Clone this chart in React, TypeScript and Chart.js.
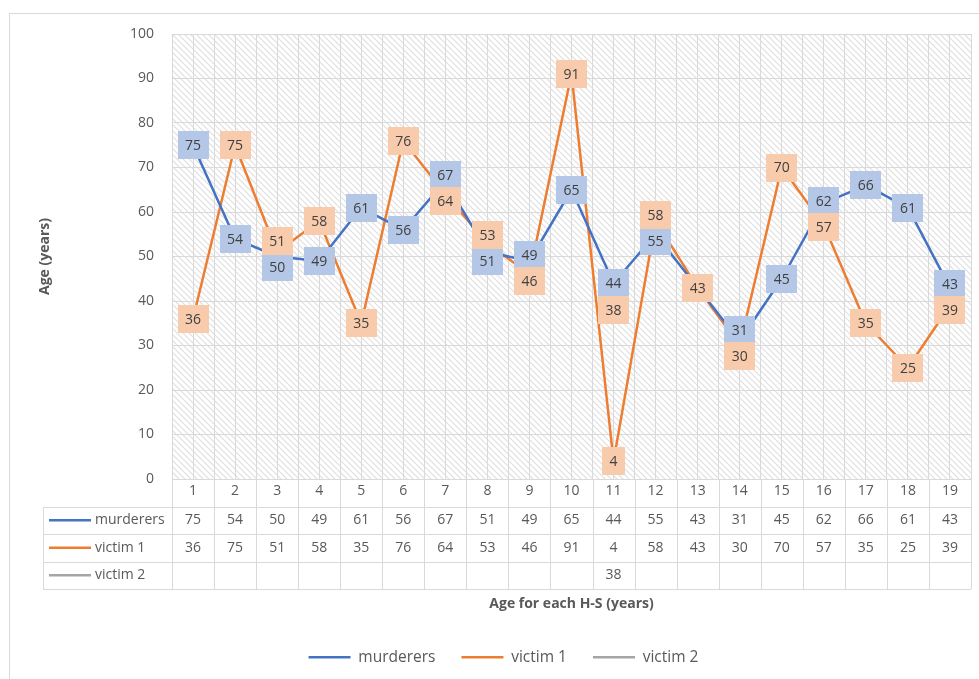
import React, { useEffect, useRef } from 'react';
import { Chart, registerables } from 'chart.js';

Chart.register(...registerables);

const categories = ['1', '2', '3', '4', '5', '6', '7', '8', '9', '10', '11', '12', '13', '14', '15', '16', '17', '18', '19'];
const seriesNames = ['murderers', 'victim 1', 'victim 2'];
const murderers = [75, 54, 50, 49, 61, 56, 67, 51, 49, 65, 44, 55, 43, 31, 45, 62, 66, 61, 43];
const victim1 = [36, 75, 51, 58, 35, 76, 64, 53, 46, 91, 4, 58, 43, 30, 70, 57, 35, 25, 39];
const victim2: (number | null)[] = [null, null, null, null, null, null, null, null, null, null, 38, null, null, null, null, null, null, null, null];
const yTitle = 'Age (years)';
const xTitle = 'Age for each H-S (years)';

const allSeries: (number | null)[][] = [murderers, victim1, victim2];
const lineColors = ['#4472c4', '#ed7d31', '#a5a5a5'];
const labelFills = ['#b4c7e7', '#f8cbad', '#f8cbad'];
const FONT = '"Open Sans", Lato, sans-serif';
const TEXT = '#595959';
const GRID = '#d9d9d9';

function makeHatch(): CanvasPattern | string {
  const s = 6;
  const c = document.createElement('canvas');
  c.width = s;
  c.height = s;
  const g = c.getContext('2d');
  if (!g) return '#fff';
  g.fillStyle = '#ffffff';
  g.fillRect(0, 0, s, s);
  g.strokeStyle = '#dedede';
  g.lineWidth = 1.1;
  g.beginPath();
  g.moveTo(-1, -1);
  g.lineTo(s + 1, s + 1);
  g.moveTo(-1, s - 1);
  g.lineTo(1, s + 1);
  g.moveTo(s - 1, -1);
  g.lineTo(s + 1, 1);
  g.stroke();
  const p = g.createPattern(c, 'repeat');
  return p || '#fff';
}

export default function App() {
  const ref = useRef<HTMLCanvasElement | null>(null);

  useEffect(() => {
    const canvas = ref.current;
    if (!canvas) return;
    const hatch = makeHatch();

    const backgroundPlugin = {
      id: 'bgPlugin',
      beforeDraw(chart: any) {
        const { ctx, chartArea } = chart;
        ctx.save();
        ctx.fillStyle = '#ffffff';
        ctx.fillRect(0, 0, chart.width, chart.height);
        ctx.strokeStyle = GRID;
        ctx.lineWidth = 1;
        ctx.strokeRect(9.5, 13.5, chart.width + 20, chart.height + 20);
        ctx.fillStyle = hatch as any;
        ctx.fillRect(chartArea.left, chartArea.top, chartArea.right - chartArea.left, chartArea.bottom - chartArea.top);
        ctx.restore();
      },
    };

    const tablePlugin = {
      id: 'tablePlugin',
      afterDraw(chart: any) {
        const { ctx, chartArea } = chart;
        const xs = chart.scales.x;
        const rowH = 27.5;
        const top = chartArea.bottom;
        const leftCol = 43;
        ctx.save();
        ctx.strokeStyle = GRID;
        ctx.lineWidth = 1;
        ctx.beginPath();
        ctx.moveTo(chartArea.left, Math.round(top) + 0.5);
        ctx.lineTo(chartArea.right, Math.round(top) + 0.5);
        for (let r = 1; r <= 4; r++) {
          const y = Math.round(top + r * rowH) + 0.5;
          ctx.moveTo(leftCol, y);
          ctx.lineTo(chartArea.right, y);
        }
        for (let k = 0; k <= categories.length; k++) {
          const x = Math.round(xs.getPixelForValue(k + 0.5)) + 0.5;
          ctx.moveTo(x, top);
          ctx.lineTo(x, top + 4 * rowH);
        }
        ctx.moveTo(leftCol + 0.5, Math.round(top + rowH));
        ctx.lineTo(leftCol + 0.5, Math.round(top + 4 * rowH));
        ctx.stroke();

        ctx.font = `14px ${FONT}`;
        ctx.fillStyle = TEXT;
        ctx.textBaseline = 'middle';
        allSeries.forEach((vals, r) => {
          const cy = top + rowH * (r + 1.5);
          ctx.textAlign = 'center';
          ctx.fillStyle = TEXT;
          vals.forEach((v, i) => {
            if (v === null) return;
            ctx.fillText(String(v), xs.getPixelForValue(i + 1), cy);
          });
          ctx.strokeStyle = lineColors[r];
          ctx.lineWidth = 2.5;
          ctx.beginPath();
          ctx.moveTo(49, cy);
          ctx.lineTo(91, cy);
          ctx.stroke();
          ctx.textAlign = 'left';
          ctx.fillText(seriesNames[r], 95, cy);
        });
        ctx.restore();
      },
    };

    const labelPlugin = {
      id: 'labelPlugin',
      afterDatasetsDraw(chart: any) {
        const { ctx } = chart;
        const MIN = 26;
        const groups: any[][] = categories.map(() => []);
        allSeries.forEach((vals, d) => {
          const meta = chart.getDatasetMeta(d);
          vals.forEach((v, i) => {
            if (v === null) return;
            const el = meta.data[i];
            groups[i].push({ d, v, x: el.x, y: el.y, ly: el.y });
          });
        });
        groups.forEach((g) => {
          g.sort((a, b) => a.y - b.y);
          for (let j = 1; j < g.length; j++) {
            const a = g[j - 1];
            const b = g[j];
            if (a.v !== b.v && b.ly - a.ly < MIN) {
              const mid = (a.y + b.y) / 2;
              a.ly = mid - MIN / 2;
              b.ly = mid + MIN / 2;
            }
          }
        });
        const items = groups.flat().sort((a, b) => a.d - b.d);
        ctx.save();
        ctx.font = `14px ${FONT}`;
        ctx.textAlign = 'center';
        ctx.textBaseline = 'middle';
        items.forEach((it) => {
          const txt = String(it.v);
          const w = ctx.measureText(txt).width + 15;
          const h = 28;
          ctx.fillStyle = labelFills[it.d];
          ctx.fillRect(Math.round(it.x - w / 2), Math.round(it.ly - h / 2), Math.round(w), h);
          ctx.fillStyle = '#404040';
          ctx.fillText(txt, it.x, it.ly + 1);
        });
        ctx.restore();
      },
    };

    const chart = new Chart(canvas, {
      type: 'line',
      data: {
        datasets: allSeries.map((vals, d) => ({
          label: seriesNames[d],
          data: vals.map((v, i) => ({ x: i + 1, y: v })),
          borderColor: lineColors[d],
          backgroundColor: lineColors[d],
          borderWidth: 2.5,
          pointRadius: 0,
          pointHoverRadius: 0,
          tension: 0,
          borderJoinStyle: 'round',
          borderCapStyle: 'round',
          spanGaps: false,
        })),
      },
      options: {
        animation: false,
        responsive: false,
        events: [],
        layout: { padding: { top: 34, right: 8, bottom: 4, left: 36 } },
        plugins: {
          tooltip: { enabled: false },
          legend: {
            position: 'bottom',
            labels: {
              usePointStyle: true,
              pointStyle: 'line',
              pointStyleWidth: 42,
              padding: 26,
              color: TEXT,
              font: { size: 15.5, family: FONT },
            },
          },
        },
        scales: {
          x: {
            type: 'linear',
            position: 'bottom',
            min: 0.5,
            max: 19.5,
            afterFit: (s: any) => {
              s.height = 144.5;
            },
            ticks: {
              stepSize: 0.5,
              autoSkip: false,
              maxRotation: 0,
              padding: 4,
              color: TEXT,
              font: { size: 14, family: FONT },
              callback: (v: any) => (Number.isInteger(v) ? categories[v - 1] : ''),
            },
            grid: { color: GRID, drawTicks: false },
            border: { color: GRID },
            title: {
              display: true,
              text: xTitle,
              color: TEXT,
              font: { size: 14, weight: 'bold', family: FONT },
              padding: { top: 0, bottom: 11 },
            },
          },
          y: {
            min: 0,
            max: 100,
            afterFit: (s: any) => {
              s.width = 136;
            },
            ticks: {
              stepSize: 10,
              padding: 18,
              color: TEXT,
              font: { size: 14, family: FONT },
            },
            grid: { color: GRID, drawTicks: false },
            border: { display: false },
            title: {
              display: true,
              text: yTitle,
              color: TEXT,
              font: { size: 14, weight: 'bold', family: FONT },
              padding: { top: 0.6, bottom: 0 },
            },
          },
        },
      },
      plugins: [backgroundPlugin, labelPlugin, tablePlugin],
    } as any);

    return () => chart.destroy();
  }, []);

  return (
    <div style={{ position: 'fixed', left: 0, top: 0, width: 979, height: 679, background: '#fff' }}>
      <canvas ref={ref} width={979} height={679} style={{ display: 'block' }} />
    </div>
  );
}
